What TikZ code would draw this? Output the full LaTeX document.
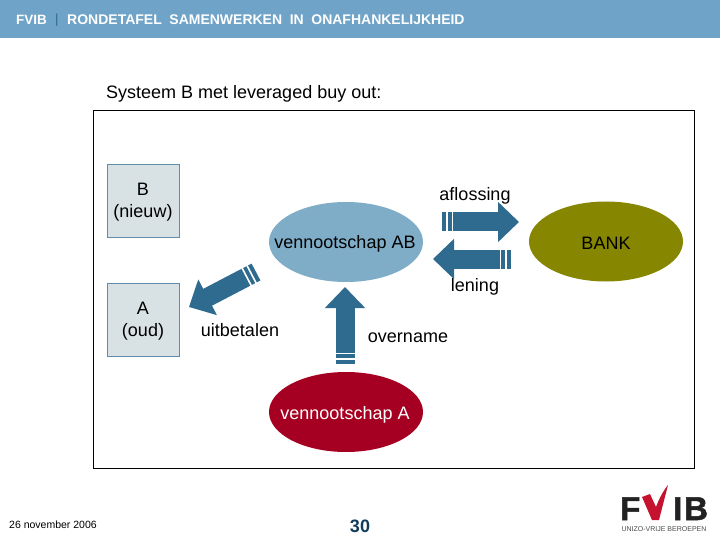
\documentclass[tikz,border=0pt]{standalone}
\usepackage{fontspec}
\setmainfont{Liberation Sans}
\newfontfamily\logofont[BoldFeatures={FakeBold=1.5}]{Liberation Sans}
\usetikzlibrary{arrows.meta,calc,shapes.geometric}
\definecolor{headblue}{HTML}{6FA3C7}
\definecolor{arrowblue}{HTML}{2F6A8F}
\definecolor{abblue}{HTML}{7FADC8}
\definecolor{boxfill}{HTML}{D8E2E4}
\definecolor{boxline}{HTML}{5F8CA8}
\definecolor{bankolive}{HTML}{868600}
\definecolor{redA}{HTML}{A50021}
\definecolor{navy}{HTML}{123C5C}
\definecolor{logored}{HTML}{C4122F}
\definecolor{logogrey}{HTML}{222222}
\newcommand{\fs}[1]{\fontsize{#1}{#1}\selectfont}
\newcommand{\wgap}{\hspace{7.6pt}}
\newcommand{\blockarrow}[2]{%
  \draw[blockarrow] (#1) -- (#2);
  \foreach \d in {5,10.5}{
    \draw[stripeline] ($(#1)!\d pt!(#2)!10.5pt!90:(#2)$) -- ($(#1)!\d pt!(#2)!10.5pt!-90:(#2)$);
  }}
\tikzset{
  x=1pt,y=-1pt,
  lab/.style={font=\fs{18},text=black,inner sep=0pt,align=center},
  partybox/.style={draw=boxline,line width=0.8pt,fill=boxfill,minimum width=72pt,minimum height=73pt,inner sep=0pt},
  party/.style={ellipse,minimum width=154pt,minimum height=80pt,inner sep=0pt},
  partylabel/.style={inner sep=0pt,font=\fs{18},text=black,align=center},
  blockarrow/.style={draw=arrowblue,line width=19pt,-{Triangle[length=21pt,width=39pt]},shorten >=0pt},
  stripeline/.style={draw=white,line width=1.6pt},
}
\begin{document}
\begin{tikzpicture}
\useasboundingbox (0,0) rectangle (720,540);
\fill[white] (0,0) rectangle (720,540);
\fill[headblue] (0,0) rectangle (720,38);
\node[anchor=west,inner sep=0pt,text=white,font=\bfseries\fs{13.5}] (head) at (16,20) {FVIB};
\node[anchor=west,inner sep=0pt,text=arrowblue,font=\fs{13}] (headbar) at (55,20) {|};
\node[anchor=west,inner sep=0pt,text=white,font=\bfseries\fs{14}] (headtitle) at (67,20) {RONDETAFEL\wgap SAMENWERKEN\wgap IN\wgap ONAFHANKELIJKHEID};
\node[anchor=west,lab] (title) at (106,94) {Systeem B met leveraged buy out:};
\node[draw=black,line width=0.9pt,fill=white,minimum width=601pt,minimum height=358pt,inner sep=0pt] (frame) at (393.5,289) {};
\node[partybox] (b) at (143,200.5) {};
\node[partybox] (a) at (143,319.5) {};
\node[partylabel] (bl) at ($(b.center)+(0,2)$) {B\\[4pt](nieuw)};
\node[partylabel] (al) at ($(a.center)+(0,2)$) {A\\[4pt](oud)};
\node[party,fill=abblue] (ab) at (346,242) {};
\node[party,fill=bankolive] (bank) at (606,241.5) {};
\node[party,fill=redA] (va) at (346,412) {};
\node[partylabel] (abl) at ($(ab.center)+(-1,2)$) {vennootschap AB};
\node[partylabel] (bankl) at ($(bank.center)+(0,2)$) {BANK};
\node[partylabel,text=white] (val) at ($(va.center)+(-1,3)$) {vennootschap A};
\node[lab] (afl) at (475,196) {aflossing};
\node[lab] (len) at (475,287) {lening};
\node[lab] (uit) at (240,330) {uitbetalen};
\node[lab] (ove) at (408,338) {overname};
\coordinate (t1) at (442,222); \coordinate (h1) at (519,222);
\coordinate (t2) at (511,259); \coordinate (h2) at (433,259);
\coordinate (t3) at (256,272); \coordinate (h3) at (189,307);
\coordinate (t4) at (345,364); \coordinate (h4) at (345,287);
\blockarrow{t1}{h1}
\blockarrow{t2}{h2}
\blockarrow{t3}{h3}
\blockarrow{t4}{h4}
\node[anchor=west,inner sep=0pt,font=\fs{10.5},text=black] (date) at (9,525) {26 november 2006};
\node[inner sep=0pt,font=\bfseries\fs{18},text=navy] (page) at (360,526) {30};
\node[anchor=base west,inner sep=0pt,font=\logofont\bfseries\fs{33},text=logogrey] (logoF) at (620,520) {F};
\node[anchor=base west,inner sep=0pt,font=\logofont\bfseries\fs{33},text=logogrey] (logoI) at (673,520) {I};
\node[anchor=base west,inner sep=0pt,font=\logofont\bfseries\fs{33},text=logogrey] (logoB) at (684,520) {B};
\fill[logored] (642,497) -- (650,494) -- (656,507) .. controls (659,499) and (663,491) .. (668,485) -- (659,520) -- (652,520) -- cycle;
\node[inner sep=0pt,font=\fs{7},text=black!70] (logotext) at (664,529) {UNIZO-VRIJE BEROEPEN};
\end{tikzpicture}
\end{document}
